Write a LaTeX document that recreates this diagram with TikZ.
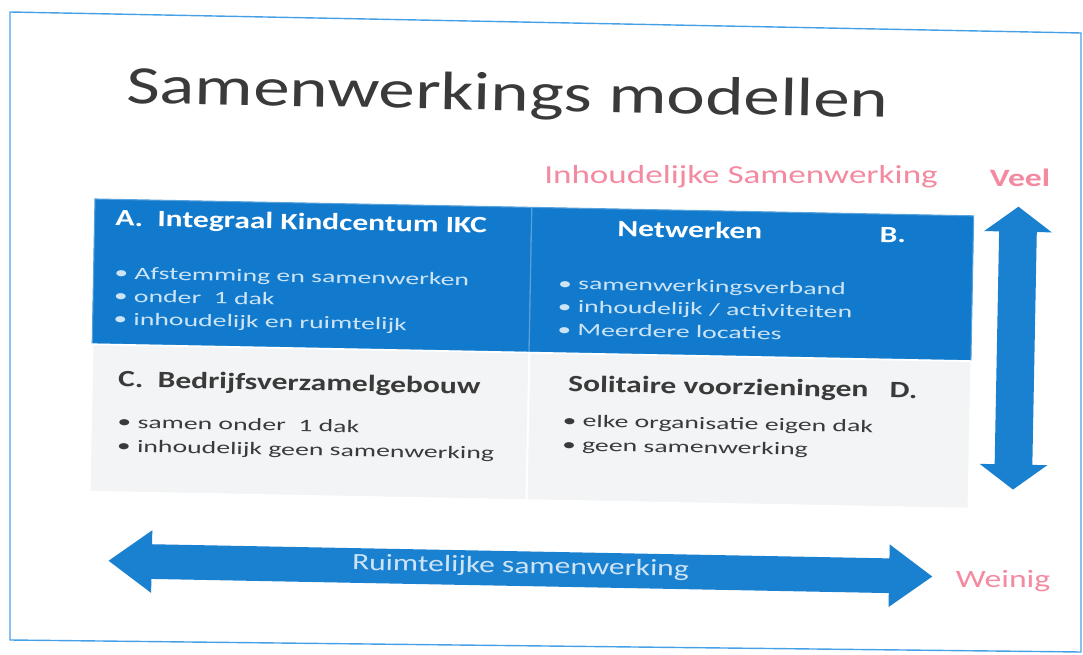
\documentclass[tikz,border=0pt]{standalone}
\usepackage{fontspec}
\setmainfont[FakeStretch=1.35]{Carlito}
\newfontfamily\itemfont[FakeStretch=1.58]{Carlito}
\usepackage{tikz}
\usetikzlibrary{shapes.arrows}

\definecolor{slideblue}{RGB}{18,122,204}
\definecolor{arrowblue}{RGB}{26,128,208}
\definecolor{pinktext}{RGB}{243,138,160}
\definecolor{lightcell}{RGB}{242,244,246}
\definecolor{frameblue}{RGB}{70,160,230}
\definecolor{darktext}{RGB}{58,58,58}
\definecolor{paletext}{RGB}{205,228,246}

\begin{document}
\begin{tikzpicture}[x=0.02cm,y=-0.02cm,
        bluecell/.style={rectangle,fill=slideblue,draw=slideblue!70!white,line width=0.6pt,anchor=north west,inner sep=0pt},
        greycell/.style={rectangle,fill=lightcell,draw=white,line width=1pt,anchor=north west,inner sep=0pt},
        headwhite/.style={anchor=base west,inner sep=0pt,text=white,font=\bfseries\fontsize{13.3}{15}\selectfont},
        headdark/.style={anchor=base west,inner sep=0pt,text=darktext,font=\bfseries\fontsize{13.3}{15}\selectfont},
        itemwhite/.style={anchor=base west,inner sep=0pt,text=paletext,font=\itemfont\fontsize{10}{12}\selectfont},
        itemdark/.style={anchor=base west,inner sep=0pt,text=darktext,font=\itemfont\fontsize{10}{12}\selectfont},
        pinklabel/.style={anchor=base,inner sep=0pt,text=pinktext,font=\fontsize{14.2}{16}\selectfont},
        bigarrow/.style={double arrow,fill=arrowblue,draw=none,double arrow head indent=0pt,inner xsep=0pt}]
    \useasboundingbox (0,0) rectangle (1083,655);
    \draw[frameblue,line width=0.8pt] (10,12) -- (1081,33) -- (1081,652) -- (10,640) -- cycle;

    % the slide itself is photographed a little askew
    \begin{scope}[rotate around={-1.1:(540,330)},transform shape]
        \node[anchor=base,inner sep=0pt,text=darktext,font=\fontsize{30.8}{34}\selectfont] (title) at (503,111) {Samenwerkings modellen};

        \node[bluecell,minimum width=8.74cm,minimum height=2.9cm] (cellA) at (92,207) {};
        \node[bluecell,minimum width=8.84cm,minimum height=2.9cm] (cellB) at (529,207) {};
        \node[greycell,minimum width=8.74cm,minimum height=2.95cm] (cellC) at (92,352) {};
        \node[greycell,minimum width=8.84cm,minimum height=2.95cm] (cellD) at (529,352) {};

        \node[headwhite] (headA) at (113,234) {A.\ \ Integraal Kindcentum IKC};
        \node[itemwhite] (a1) at (113,287) {• Afstemming en samenwerken};
        \node[itemwhite] (a2) at (113,310) {• onder\ \ 1 dak};
        \node[itemwhite] (a3) at (113,333) {• inhoudelijk en ruimtelijk};

        \node[headwhite,anchor=base] (headB) at (688,235) {Netwerken};
        \node[headwhite,anchor=base] (letterB) at (891,236) {B.};
        \node[itemwhite] (b1) at (557,289) {• samenwerkingsverband};
        \node[itemwhite] (b2) at (557,312) {• inhoudelijk / activiteiten};
        \node[itemwhite] (b3) at (557,335) {• Meerdere locaties};

        \node[headdark] (headC) at (119,395) {C.\ \ Bedrijfsverzamelgebouw};
        \node[itemdark] (c1) at (119,436) {• samen onder\ \ 1 dak};
        \node[itemdark] (c2) at (119,460) {• inhoudelijk geen samenwerking};

        \node[headdark] (headD) at (569,391) {Solitaire voorzieningen\ \ \ D.};
        \node[itemdark] (d1) at (564,426) {• elke organisatie eigen dak};
        \node[itemdark] (d2) at (564,450) {• geen samenwerking};

        \node[bigarrow,minimum height=16.48cm,minimum width=1.24cm,double arrow head extend=0.28cm,
              double arrow tip angle=72,text height=0.26cm,text depth=0.08cm,inner ysep=0.17cm,
              text=paletext,font=\fontsize{13.3}{15}\selectfont] (ruimte) at (525,569) {Ruimtelijke samenwerking};
        \node[bigarrow,rotate=90,minimum height=5.66cm,minimum width=1.34cm,double arrow head extend=0.3cm,
              double arrow tip angle=107,inner ysep=0.37cm] (inhoud) at (1016,339) {};
    \end{scope}

    \node[pinklabel,font=\fontsize{14.8}{16}\selectfont] (inhoudlabel) at (741,184) {Inhoudelijke Samenwerking};
    \node[pinklabel,font=\bfseries\fontsize{14.2}{16}\selectfont] (veel) at (1020,187) {Veel};
    \node[pinklabel] (weinig) at (1003,587) {Weinig};
\end{tikzpicture}
\end{document}
